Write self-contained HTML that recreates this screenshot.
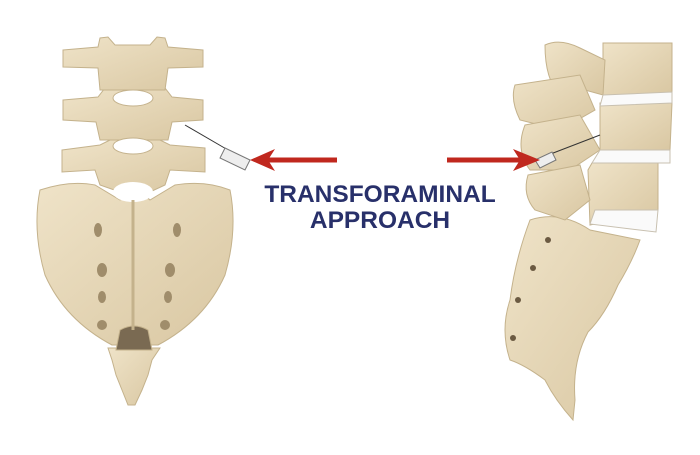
<!DOCTYPE html>
<html><head><meta charset="utf-8"><style>
html,body{margin:0;padding:0;background:#fff;}
svg{display:block}
</style></head><body>
<svg width="700" height="455" viewBox="0 0 700 455" xmlns="http://www.w3.org/2000/svg">
<defs>
<linearGradient id="b" x1="0" y1="0" x2="1" y2="1">
<stop offset="0" stop-color="#efe3c8"/><stop offset="1" stop-color="#d9c7a2"/>
</linearGradient>
</defs>
<g fill="url(#b)" stroke="#c4b28c" stroke-width="1">
<path d="M40 190 Q70 180 95 185 L120 200 Q135 185 150 200 L175 185 Q205 180 230 190 Q238 230 225 275 Q205 320 158 345 L112 345 Q65 320 45 275 Q32 230 40 190Z"/>
<path d="M108 348 L160 348 L152 360 L148 375 L142 390 L135 405 L128 405 L122 390 L116 375 L112 360Z"/>
<path d="M120 330 Q134 322 148 330 L152 350 L116 350Z" fill="#7a6a52"/>
<path d="M62 150 L100 145 L110 140 L160 140 L170 145 L205 148 L205 172 L170 170 L165 185 L150 192 L120 192 L100 185 L95 170 L62 172Z"/>
<path d="M63 100 L98 97 L105 88 L165 88 L172 97 L203 100 L203 120 L172 122 L168 140 L100 140 L96 122 L63 120Z"/>
<path d="M63 50 L98 47 L100 38 L108 37 L115 45 L150 45 L157 37 L165 38 L168 47 L203 50 L203 67 L168 68 L165 90 L100 90 L98 68 L63 67Z"/>
</g>
<g fill="#fff" stroke="#c4b28c">
<ellipse cx="133" cy="98" rx="20" ry="8"/>
<ellipse cx="133" cy="146" rx="20" ry="8"/>
<ellipse cx="133" cy="192" rx="20" ry="10" stroke="none"/>
</g>
<g fill="#a08d6b">
<ellipse cx="98" cy="230" rx="4" ry="7"/><ellipse cx="102" cy="270" rx="5" ry="7"/><ellipse cx="102" cy="297" rx="4" ry="6"/><ellipse cx="102" cy="325" rx="5" ry="5"/>
<ellipse cx="177" cy="230" rx="4" ry="7"/><ellipse cx="170" cy="270" rx="5" ry="7"/><ellipse cx="168" cy="297" rx="4" ry="6"/><ellipse cx="165" cy="325" rx="5" ry="5"/>
</g>
<line x1="133" y1="200" x2="133" y2="330" stroke="#c4b28c" stroke-width="3"/>
<line x1="185" y1="125" x2="228" y2="150" stroke="#333" stroke-width="1"/>
<path d="M225 148 L250 160 L245 170 L220 158Z" fill="#eee" stroke="#777"/>
<g fill="url(#b)" stroke="#c4b28c">
<path d="M530 220 Q560 210 590 230 L640 240 Q632 262 618 285 Q605 315 588 332 Q572 362 575 400 L573 420 Q555 400 545 380 Q525 365 510 360 Q500 330 510 300 Q515 260 530 220Z"/>
<path d="M592 163 L658 163 L658 210 L590 225 L588 170Z"/>
<path d="M600 103 L672 103 L670 150 L600 150Z"/>
<path d="M603 43 L672 43 L672 95 L603 95Z"/>
<path d="M545 45 Q560 38 580 48 L605 60 L603 95 L585 90 L560 95 Q545 80 545 45Z"/>
<path d="M515 85 L580 75 L595 110 L560 130 L520 120 Q510 100 515 85Z"/>
<path d="M525 125 L580 115 L600 150 L570 170 L530 170 Q515 150 525 125Z"/>
<path d="M528 175 L580 165 L590 200 L565 220 L535 210 Q522 195 528 175Z"/>
</g>
<g fill="#fafafa" stroke="#c8c0b0">
<path d="M603 95 L672 92 L672 103 L600 106Z"/>
<path d="M600 150 L670 150 L670 163 L592 163Z"/>
<path d="M595 210 L658 210 L656 232 L590 224Z"/>
</g>
<g fill="#6b5a42"><circle cx="548" cy="240" r="3"/><circle cx="533" cy="268" r="3"/><circle cx="518" cy="300" r="3"/><circle cx="513" cy="338" r="3"/></g>
<line x1="600" y1="135" x2="548" y2="155" stroke="#333"/>
<path d="M535 160 L552 152 L556 160 L540 168Z" fill="#eee" stroke="#777"/>
<line x1="337" y1="160" x2="268" y2="160" stroke="#c0281e" stroke-width="5"/>
<path d="M250 160 L275 149 L268 160 L275 171Z" fill="#c0281e"/>
<line x1="447" y1="160" x2="520" y2="160" stroke="#c0281e" stroke-width="5"/>
<path d="M540 160 L513 149 L520 160 L513 171Z" fill="#c0281e"/>
<text x="380" y="202" text-anchor="middle" font-family="Liberation Sans, sans-serif" font-weight="bold" font-size="24.5" fill="#28306a">TRANSFORAMINAL</text>
<text x="380" y="228" text-anchor="middle" font-family="Liberation Sans, sans-serif" font-weight="bold" font-size="24.5" fill="#28306a">APPROACH</text>
</svg>
</body></html>
